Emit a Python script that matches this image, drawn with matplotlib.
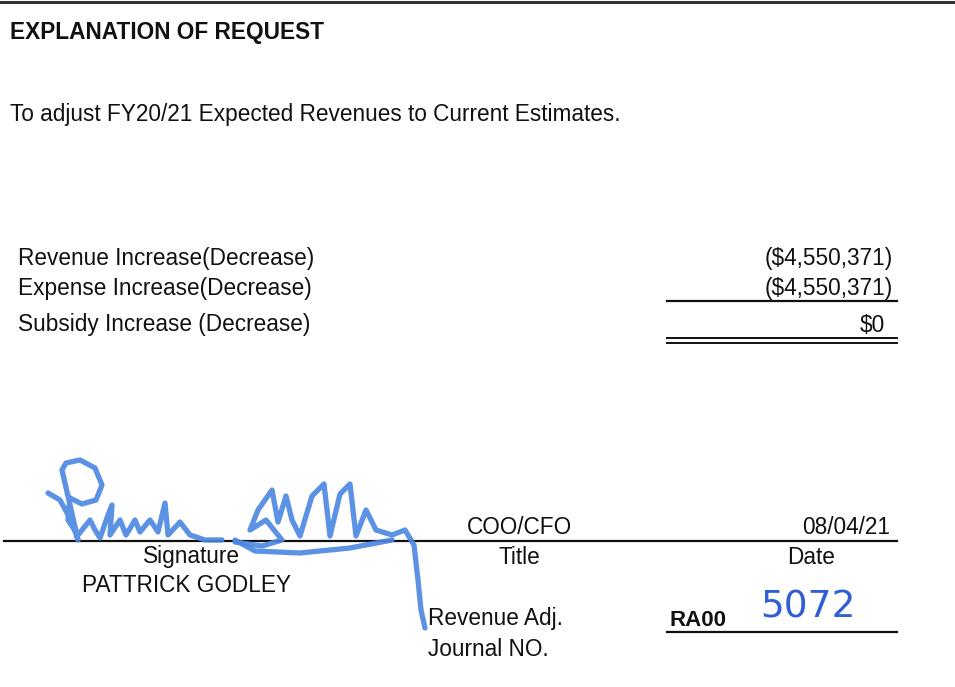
import matplotlib
matplotlib.use('Agg')
import matplotlib.pyplot as plt

plt.rcParams['font.family'] = ['Liberation Sans', 'DejaVu Sans']

#--form content--#
heading = 'EXPLANATION OF REQUEST'
explanation = 'To adjust FY20/21 Expected Revenues to Current Estimates.'
item_labels = ['Revenue Increase(Decrease)', 'Expense Increase(Decrease)', 'Subsidy Increase (Decrease)']
item_values = ['($4,550,371)', '($4,550,371)', '$0']
signer = 'PATTRICK GODLEY'
title_txt = 'COO/CFO'
date_txt = '08/04/21'
journal_prefix = 'RA00'
journal_no = '5072'

#--signature strokes (pixel coords)--#
sig_x = [48, 60, 72, 78, 70, 62, 66, 80, 95, 102, 96, 82, 70, 68, 78, 90, 95, 100, 108, 112,
         110, 120, 126, 135, 140, 150, 158, 165, 168, 180, 190, 205, 222]
sig_y = [493, 500, 522, 540, 505, 470, 463, 460, 468, 485, 500, 504, 498, 520, 535, 520, 530, 538, 515, 505,
         535, 520, 535, 520, 532, 520, 532, 503, 535, 522, 535, 540, 540]
sig2_x = [235, 262, 282, 266, 250, 258, 272, 278, 286, 292, 300, 312, 324, 330, 340, 350, 356, 366,
          376, 392, 405, 414, 418, 421, 425]
sig2_y = [542, 546, 540, 520, 530, 510, 490, 522, 496, 520, 536, 496, 484, 536, 494, 484, 536, 510,
          530, 535, 530, 545, 580, 610, 628]
sig3_x = [235, 255, 300, 350, 392]
sig3_y = [540, 551, 553, 548, 540]

fig = plt.figure(figsize=(9.55, 6.87), dpi=100)
ax = fig.add_axes([0, 0, 1, 1])
ax.set_xlim(0, 955)
ax.set_ylim(687, 0)
ax.axis('off')

fs = 16.3
ink = '#111111'
# top border
ax.plot([0, 955], [1.5, 1.5], color='#333333', lw=2.2)

ax.text(10, 32, heading, fontsize=16.3, fontweight='bold', va='center', ha='left', color=ink)
ax.text(10, 115, explanation, fontsize=fs, va='center', ha='left', color=ink)

rows_y = [259, 288, 325]
for lab, val, yy in zip(item_labels, item_values, rows_y):
    ax.text(18, yy, lab, fontsize=fs, va='center', ha='left', color=ink)
    xr = 893 if val != '$0' else 885
    ax.text(xr, yy, val, fontsize=fs, va='center', ha='right', color=ink)

ax.plot([667, 897], [301, 301], color=ink, lw=1.6)
ax.plot([667, 897], [337.5, 337.5], color=ink, lw=1.4)
ax.plot([667, 897], [342.5, 342.5], color=ink, lw=1.4)

# signature line block
ax.plot([4, 897], [541, 541], color=ink, lw=1.6)
ax.text(519, 528, title_txt, fontsize=fs, va='center', ha='center', color=ink)
ax.text(890, 528, date_txt, fontsize=fs, va='center', ha='right', color=ink)
ax.text(191, 557, 'Signature', fontsize=fs, va='center', ha='center', color=ink)
ax.text(519, 557, 'Title', fontsize=fs, va='center', ha='center', color=ink)
ax.text(811, 557, 'Date', fontsize=fs, va='center', ha='center', color=ink)
ax.text(187, 586, signer, fontsize=fs, va='center', ha='center', color=ink)

ax.text(428, 619, 'Revenue Adj.', fontsize=fs, va='center', ha='left', color=ink)
ax.text(428, 649, 'Journal NO.', fontsize=fs, va='center', ha='left', color=ink)
ax.text(669, 621, journal_prefix, fontsize=16, fontweight='bold', va='center', ha='left', color=ink)
ax.text(760, 608, journal_no, fontsize=27, va='center', ha='left', color='#2f5fd4',
        family=['DejaVu Sans'])
ax.plot([667, 897], [632, 632], color=ink, lw=1.6)

# signature
sig_col = '#4a86e0'
for xs, ys in [(sig_x, sig_y), (sig2_x, sig2_y), (sig3_x, sig3_y)]:
    ax.plot(xs, ys, color=sig_col, lw=3.8, alpha=0.9, solid_joinstyle='round', solid_capstyle='round')

fig.savefig('out.png', dpi=100, facecolor='white')
